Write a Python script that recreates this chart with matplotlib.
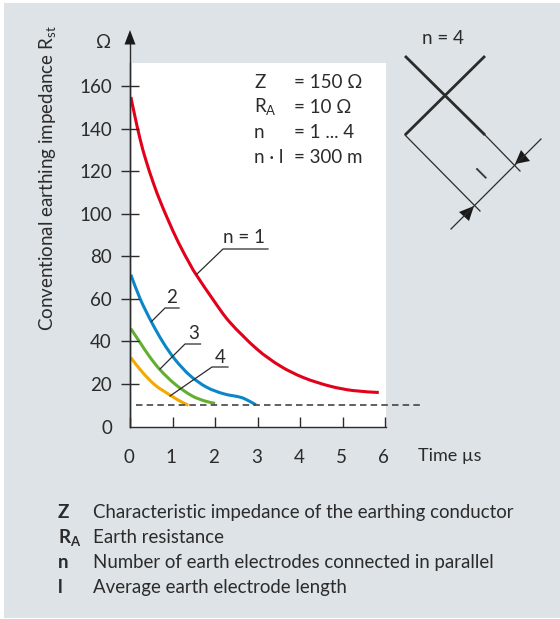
import matplotlib
matplotlib.use("Agg")
import matplotlib.pyplot as plt
from matplotlib.patches import PathPatch, Polygon, Rectangle
from matplotlib.path import Path
from matplotlib.transforms import ScaledTranslation

W, H = 560, 619
BG = "#dde3e7"
INK = "#2b2b2b"
FONT = "Lato"

plt.rcParams["font.family"] = [FONT, "DejaVu Sans"]
plt.rcParams["mathtext.fontset"] = "custom"
plt.rcParams["mathtext.rm"] = FONT
plt.rcParams["mathtext.bf"] = FONT + ":bold"

x_ticks = [0, 1, 2, 3, 4, 5, 6]
y_ticks = [0, 20, 40, 60, 80, 100, 120, 140, 160]

# time in µs, impedance in ohm
t_n1 = [0.02, 0.12, 0.24, 0.37, 0.55, 0.71, 0.90, 1.14, 1.42, 1.57, 1.96, 2.35, 2.98, 3.53, 4.08, 4.70, 5.25, 5.85]
z_n1 = [155, 145.5, 135, 125.5, 114.5, 106, 97, 86.5, 76, 71, 59.5, 49, 36.5, 28.5, 23, 19, 16.9, 16]
t_n2 = [0.02, 0.24, 0.51, 0.78, 1.06, 1.41, 1.80, 2.20, 2.59, 2.78, 2.96]
z_n2 = [71.4, 60, 49, 39.5, 31.5, 24, 18.5, 15.4, 13.8, 12.2, 10.2]
t_n3 = [0.02, 0.24, 0.47, 0.72, 1.06, 1.45, 1.76, 2.0]
z_n3 = [46, 39.4, 32.6, 26.4, 19.9, 14.5, 12, 10.9]
t_n4 = [0.02, 0.28, 0.59, 0.94, 1.18, 1.37]
z_n4 = [32.4, 25.8, 19.5, 14.8, 11.9, 10]
t_dash = [0.14, 6.82]
z_dash = [10, 10]

legend_keys = ["Z", r"$\mathbf{R_{A}}$", "n", "l"]
legend_text = ["Characteristic impedance of the earthing conductor",
               "Earth resistance",
               "Number of earth electrodes connected in parallel",
               "Average earth electrode length"]


def px_box(left, top, right, bottom):
    return [left / W, 1 - bottom / H, (right - left) / W, (bottom - top) / H]


def smooth_curve(ax, xs, ys, color):
    # Catmull-Rom handles so the read points join without kinks
    pts = list(zip(xs, ys))
    verts = [pts[0]]
    codes = [Path.MOVETO]
    for i in range(len(pts) - 1):
        p0 = pts[max(i - 1, 0)]
        p1 = pts[i]
        p2 = pts[i + 1]
        p3 = pts[min(i + 2, len(pts) - 1)]
        c1 = (p1[0] + (p2[0] - p0[0]) / 6, p1[1] + (p2[1] - p0[1]) / 6)
        c2 = (p2[0] - (p3[0] - p1[0]) / 6, p2[1] - (p3[1] - p1[1]) / 6)
        verts += [c1, c2, p2]
        codes += [Path.CURVE4] * 3
    ax.add_patch(PathPatch(Path(verts, codes), fc="none", ec=color, lw=2.2, capstyle="butt"))


fig = plt.figure(figsize=(W / 100, H / 100), dpi=100, facecolor="white")

bg = fig.add_axes([0, 0, 1, 1])
bg.set_xlim(0, W)
bg.set_ylim(H, 0)
bg.axis("off")
bg.add_patch(Rectangle((4, 3), W - 4, 615, fc=BG, ec="none"))

ax = fig.add_axes(px_box(130, 63, 386, 426.5))
ax.set_xlim(0, 6.02)
ax.set_ylim(0, 171)
ax.set_facecolor("white")
for s in ["top", "right"]:
    ax.spines[s].set_visible(False)
for s in ["left", "bottom"]:
    ax.spines[s].set_color(INK)
    ax.spines[s].set_linewidth(1.0)

ax.set_xticks(x_ticks)
ax.set_yticks(y_ticks)
ax.tick_params(axis="x", direction="in", length=7.5, width=1, color=INK, labelsize=13.5, labelcolor=INK, pad=16.5)
ax.tick_params(axis="y", direction="inout", length=13, width=1, color=INK, labelsize=13.5, labelcolor=INK, pad=6.5)
shift = ScaledTranslation(-1 / 72, 0, fig.dpi_scale_trans)
for lab in ax.get_xticklabels():
    lab.set_transform(lab.get_transform() + shift)
# the origin has its label but no tick mark
ax.yaxis.get_major_ticks()[0].tick1line.set_visible(False)
ax.yaxis.get_major_ticks()[0].tick2line.set_visible(False)

ax.plot(t_dash, z_dash, color="#444444", lw=1.2, dashes=(3.9, 2.5), clip_on=False)
smooth_curve(ax, t_n1, z_n1, "#e2001a")
smooth_curve(ax, t_n2, z_n2, "#0a87c8")
smooth_curve(ax, t_n3, z_n3, "#64ae32")
smooth_curve(ax, t_n4, z_n4, "#f5a800")

# overlay in pixel coordinates for the axis arrow, labels and schematic
ov = fig.add_axes([0, 0, 1, 1])
ov.set_xlim(0, W)
ov.set_ylim(H, 0)
ov.axis("off")
ov.patch.set_alpha(0)

ov.plot([130, 130], [44, 427], color=INK, lw=1)
ov.add_patch(Polygon([[130, 30], [124.5, 44.5], [135.5, 44.5]], fc="#1a1a1a", ec="none"))
ov.text(104, 43, "Ω", fontsize=13.5, color=INK, ha="center", va="center")
ov.text(48, 178, r"Conventional earthing impedance R$_{\mathrm{st}}$", rotation=90, fontsize=13.5,
        color=INK, ha="center", va="center")
ov.text(418, 456, "Time µs", fontsize=13, color=INK, ha="left", va="center")

# parameter block
for y, key, val in [(88, "Z", "= 150 Ω"), (113, r"R$_{\mathrm{A}}$", "= 10 Ω"),
                    (138, "n", "= 1 ... 4"), (163, "n · l", "= 300 m")]:
    ov.text(254, y, key, fontsize=13.5, color=INK, ha="left", va="baseline")
    ov.text(294.5, y, val, fontsize=13.5, color=INK, ha="left", va="baseline")

# curve labels and leaders
ov.plot([197, 223, 268], [274, 249, 249], color=INK, lw=0.9)
ov.text(223, 243, "n = 1", fontsize=13.5, color=INK, ha="left", va="baseline")
ov.plot([151.5, 165, 179], [321.5, 308, 308], color=INK, lw=0.9)
ov.text(172, 303, "2", fontsize=13.5, color=INK, ha="center", va="baseline")
ov.plot([160, 185, 200.5], [369, 344, 344], color=INK, lw=0.9)
ov.text(194, 339, "3", fontsize=13.5, color=INK, ha="center", va="baseline")
ov.plot([170, 212, 228], [396, 367, 367], color=INK, lw=0.9)
ov.text(220, 363, "4", fontsize=13.5, color=INK, ha="center", va="baseline")

# schematic
ov.text(442.5, 44, "n = 4", fontsize=13.5, color=INK, ha="center", va="baseline")
ov.plot([405, 485], [56, 135], color=INK, lw=2, solid_capstyle="butt")
ov.plot([405, 485], [135, 56], color=INK, lw=2, solid_capstyle="butt")
ov.plot([405, 480], [135, 211], color=INK, lw=0.9)
ov.plot([485, 520], [135, 171], color=INK, lw=0.9)
ov.plot([451, 541], [229, 139], color=INK, lw=0.9)
ov.text(482.5, 173, "l", fontsize=14.5, rotation=45, color=INK, ha="center", va="center", rotation_mode="anchor")
ov.add_patch(Polygon([[474, 206], [459, 212], [469, 221]], fc="#1a1a1a", ec="none"))
ov.add_patch(Polygon([[515, 164], [530, 161], [521, 150]], fc="#1a1a1a", ec="none"))

# legend below the chart
for y, key, text in zip([518, 543, 568, 593], legend_keys, legend_text):
    ov.text(58, y, key, fontsize=13.5, fontweight="bold", color=INK, ha="left", va="baseline")
    ov.text(93, y, text, fontsize=13.4, color=INK, ha="left", va="baseline")

fig.savefig("out.png", dpi=100)
